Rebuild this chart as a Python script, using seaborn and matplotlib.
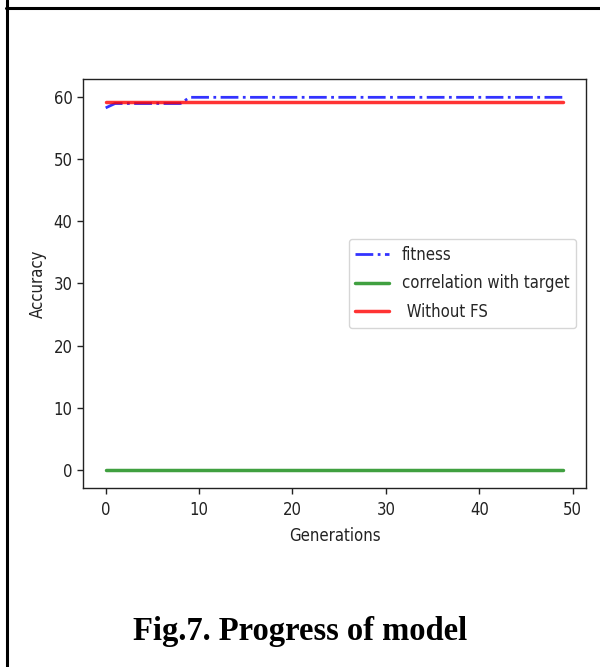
import matplotlib
matplotlib.use("Agg")
import matplotlib.pyplot as plt
from matplotlib.lines import Line2D
import seaborn as sns
import pandas as pd

generations = list(range(50))
fitness = [58.3, 59.0, 59.0, 59.0, 59.0, 59.0, 59.0, 59.0, 59.0,
           60.0, 60.0, 60.0, 60.0, 60.0, 60.0, 60.0, 60.0, 60.0, 60.0, 60.0,
           60.0, 60.0, 60.0, 60.0, 60.0, 60.0, 60.0, 60.0, 60.0, 60.0,
           60.0, 60.0, 60.0, 60.0, 60.0, 60.0, 60.0, 60.0, 60.0, 60.0,
           60.0, 60.0, 60.0, 60.0, 60.0, 60.0, 60.0, 60.0, 60.0, 60.0]
correlation = [0.0] * 50
without_fs = [59.25] * 50
x_ticks = [0, 10, 20, 30, 40, 50]
y_ticks = [0, 10, 20, 30, 40, 50, 60]

sns.set_theme(style="ticks")
plt.rcParams['font.family'] = ['DejaVu Sans']
plt.rcParams['font.stretch'] = 'condensed'
plt.rcParams['axes.edgecolor'] = 'black'
plt.rcParams['axes.linewidth'] = 1.0

fig = plt.figure(figsize=(6.0, 6.67), dpi=100)
ax = fig.add_axes([0.138, 0.268, 0.839, 0.614])

df = pd.DataFrame({"gen": generations, "fitness": fitness,
                   "corr": correlation, "wfs": without_fs})

sns.lineplot(data=df, x="gen", y="fitness", ax=ax, color="blue", alpha=0.8,
             linestyle="-.", linewidth=2.0, label="fitness")
sns.lineplot(data=df, x="gen", y="corr", ax=ax, color="green", alpha=0.75,
             linewidth=2.5, label="correlation with target")
sns.lineplot(data=df, x="gen", y="wfs", ax=ax, color="red", alpha=0.8,
             linewidth=2.5, label=" Without FS")

ax.set_xticks(x_ticks)
ax.set_yticks(y_ticks)
ax.set_xlim(-2.45, 51.45)
ax.set_ylim(-3, 63)
ax.tick_params(labelsize=12, colors='#222222', length=4, width=1)
ax.tick_params(axis='x', pad=5)
ax.set_xlabel("Generations", fontsize=12, color='#222222', labelpad=6)
ax.set_ylabel("Accuracy", fontsize=12, color='#222222', labelpad=5)
for s in ax.spines.values():
    s.set_color('#222222')
leg = ax.legend(loc="center right", fontsize=12, frameon=True,
                borderaxespad=0.6, handlelength=2.0, labelspacing=0.65)
leg.get_frame().set_edgecolor('#cccccc')

fig.add_artist(Line2D([6/600, 1.0], [1 - 8/667, 1 - 8/667], color='black',
                      linewidth=2.2, transform=fig.transFigure))
fig.add_artist(Line2D([7/600, 7/600], [0.0, 1.0], color='black',
                      linewidth=2.2, transform=fig.transFigure))
fig.text(0.5, 1 - 640/667, "Fig.7. Progress of model", ha="center",
         va="baseline", fontsize=23.5, fontweight="bold", color='black',
         family=['Liberation Serif', 'DejaVu Serif'], stretch='normal')

fig.savefig("out.png", dpi=100, facecolor="white")
